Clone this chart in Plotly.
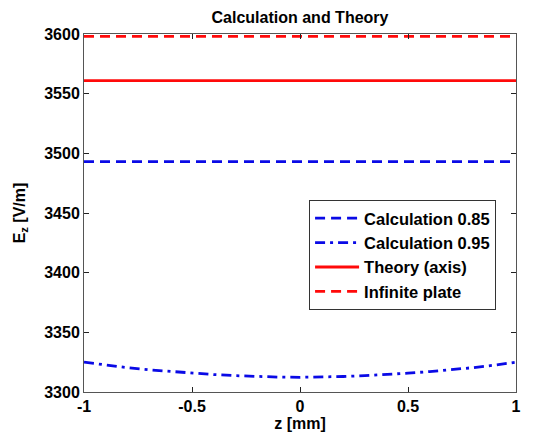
import plotly.graph_objects as go

z_mm = [-1.0, -0.9, -0.8, -0.7, -0.6, -0.5, -0.4, -0.3, -0.2, -0.1, 0.0,
        0.1, 0.2, 0.3, 0.4, 0.5, 0.6, 0.7, 0.8, 0.9, 1.0]
calc_085 = [3493.0] * 21
calc_095 = [3325.0, 3322.5, 3320.4, 3318.6, 3317.1, 3315.8, 3314.6, 3313.7, 3313.0, 3312.5, 3312.3,
            3312.5, 3313.0, 3313.7, 3314.6, 3315.8, 3317.1, 3318.6, 3320.4, 3322.5, 3325.0]
theory_axis = [3561.0] * 21
infinite_plate = [3598.0] * 21

names = ["Calculation 0.85", "Calculation 0.95", "Theory (axis)", "Infinite plate"]
series = [calc_085, calc_095, theory_axis, infinite_plate]
colors = ["#0a0ae6", "#0a0ae6", "#ff0a0a", "#ff0a0a"]
dashes = ["10px,6px", "10px,5px,3px,5px", "solid", "10px,6px"]

FONT = "Liberation Sans, Arial, sans-serif"

fig = go.Figure()
for n, y, c, d in zip(names, series, colors, dashes):
    fig.add_trace(go.Scatter(x=z_mm, y=y, mode="lines", name=n,
                             line=dict(color=c, width=2.8, dash=d)))

axis_common = dict(showgrid=False, zeroline=False, showline=True, linecolor="#555555",
                   linewidth=1, mirror="ticks", ticks="inside", ticklen=5,
                   tickcolor="#222222", automargin=False,
                   tickfont=dict(family=FONT, size=16, color="black", weight="bold"))

# page body has an 8px margin, so the figure is 8px smaller than the window
fig.update_layout(
    width=539, height=430,
    margin=dict(l=76, r=31, t=26, b=46),
    paper_bgcolor="white", plot_bgcolor="white",
    title=dict(text="Calculation and Theory", x=0.5, xref="paper", xanchor="center",
               y=0.979, yanchor="middle", automargin=False,
               font=dict(family=FONT, size=16, color="black", weight="bold")),
    xaxis=dict(range=[-1, 1], tickvals=[-1, -0.5, 0, 0.5, 1],
               ticktext=["-1", "-0.5", "0", "0.5", "1"],
               title=dict(text="z [mm]", standoff=2,
                          font=dict(family=FONT, size=16, color="black", weight="bold")),
               **axis_common),
    yaxis=dict(range=[3300, 3600], tickvals=[3300, 3350, 3400, 3450, 3500, 3550, 3600],
               title=dict(text="E<sub>z</sub> [V/m]", standoff=14,
                          font=dict(family=FONT, size=16, color="black", weight="bold")),
               **axis_common),
    legend=dict(x=0.521, y=0.383, xanchor="left", yanchor="middle",
                bgcolor="white", bordercolor="#333333", borderwidth=1,
                font=dict(family=FONT, size=16.5, color="black", weight="bold"),
                tracegroupgap=0, itemwidth=44),
    showlegend=True,
)

fig.write_html("out.html")
